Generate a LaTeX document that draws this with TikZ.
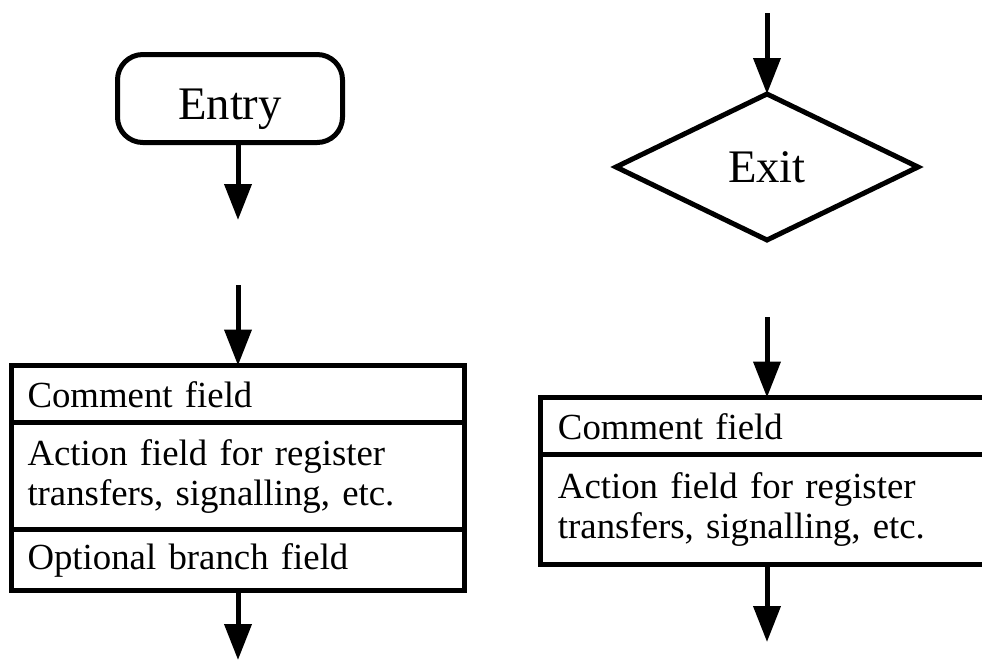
\documentclass[tikz,border=0pt]{standalone}
\usepackage{fontspec}
\setmainfont{Liberation Serif}
\usetikzlibrary{positioning,%
  shapes.geometric,%
  arrows.meta}

\begin{document}
\begin{tikzpicture}
                    [x=0.75pt, y=-0.75pt,
                    term/.style={rectangle,
                        rounded corners=19pt,
                        minimum width=168.75pt, minimum height=66pt,
                        text height=32pt, text depth=0pt,
                        font=\fontsize{35}{40}\selectfont, draw},
                    dec/.style={diamond,
                        inner sep=0pt, outer sep=0pt,
                        minimum width=226.5pt, minimum height=109.5pt,
                        font=\fontsize{35}{40}\selectfont, draw},
                    fld/.style={rectangle,
                        outer sep=0pt, inner ysep=0pt,
                        align=left, anchor=north west,
                        font=\fontsize{27.6}{30}\selectfont, draw},
                    line width=3.75pt, node distance=0pt,
                    >={Triangle[length=27pt,width=20pt]}]

                    \clip (0,0) rectangle (982,661);

                    % entry box
                    \node[term] (entry) at (230,98.5)
                        {Entry};
                    \coordinate (eout) at (238,220);

                    % left state box
                    \coordinate (lin) at (238,285);
                    \node[fld, inner xsep=12pt, text width=316pt,
                        minimum height=43.1pt] (lc) at (11.5,365.5)
                        {Comment field};
                    \node[fld, inner xsep=12pt, text width=316pt,
                        minimum height=80.25pt, below=of lc]
                        (la) {Action field for register\\transfers, signalling, etc.};
                    \node[fld, inner xsep=12pt, text width=316pt,
                        minimum height=45.4pt, below=of la]
                        (lo) {Optional branch field};
                    \coordinate (lout) at (238,660);

                    % exit
                    \coordinate (xin) at (767,13);
                    \node[dec] (exit) at (767,167)
                        {Exit};

                    % right state box
                    \coordinate (rin) at (767,317);
                    \node[fld, inner xsep=13.1pt, text width=430pt,
                        minimum height=43.1pt] (rc) at (540.5,397.5)
                        {Comment field};
                    \node[fld, inner xsep=13.1pt, text width=430pt,
                        minimum height=82.1pt, below=of rc]
                        (ra) {Action field for register\\transfers, signalling, etc.};
                    \coordinate (rout) at (767,642);

                    \draw[->]
                        (entry.south -| eout) -- (eout);
                    \draw[->]
                        (lin) -- (lin |- lc.north);
                    \draw[->]
                        (lout |- lo.south) -- (lout);
                    \draw[->]
                        (xin) -- (exit.north);
                    \draw[->]
                        (rin) -- (rin |- rc.north);
                    \draw[->]
                        (rout |- ra.south) -- (rout);
                \end{tikzpicture}
\end{document}
